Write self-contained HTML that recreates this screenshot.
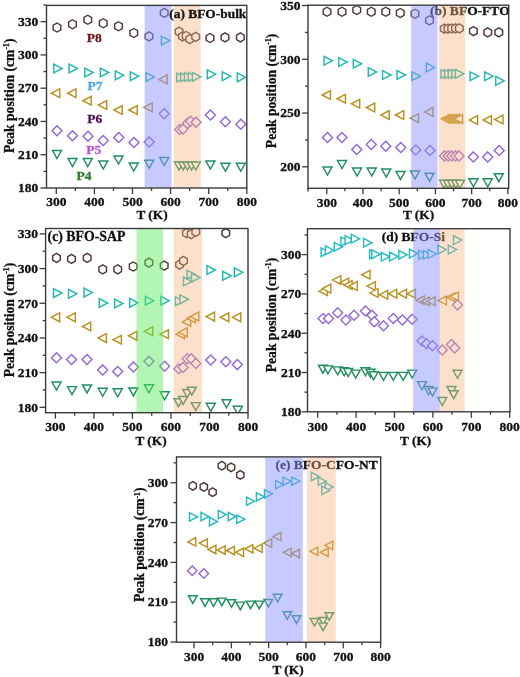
<!DOCTYPE html>
<html><head><meta charset="utf-8"><style>
html,body{margin:0;padding:0;background:#fff;}
body{width:520px;height:677px;overflow:hidden;}
svg{display:block;font-family:"Liberation Serif", serif;filter:blur(0.3px);}
</style></head><body>
<svg width="520" height="677" viewBox="0 0 520 677">
<rect width="520" height="677" fill="#fff"/>
<clipPath id="clip_a"><rect x="46.50" y="5.40" width="200.30" height="182.60"/></clipPath>
<text transform="translate(86.80,41.70)" font-size="13.50" font-weight="bold" text-anchor="start" fill="#6e1a1a" stroke="#6e1a1a" stroke-width="0.30">P8</text>
<text transform="translate(87.60,90.40)" font-size="13.50" font-weight="bold" text-anchor="start" fill="#4fa8e6" stroke="#4fa8e6" stroke-width="0.30">P7</text>
<text transform="translate(87.20,123.30)" font-size="13.50" font-weight="bold" text-anchor="start" fill="#4a1050" stroke="#4a1050" stroke-width="0.30">P6</text>
<text transform="translate(86.30,153.90)" font-size="13.50" font-weight="bold" text-anchor="start" fill="#c24fe0" stroke="#c24fe0" stroke-width="0.30">P5</text>
<text transform="translate(76.50,180.40)" font-size="13.50" font-weight="bold" text-anchor="start" fill="#2a7d2a" stroke="#2a7d2a" stroke-width="0.30">P4</text>
<g clip-path="url(#clip_a)" fill="none" stroke-width="1.45" stroke-linejoin="miter">
<g stroke="#4f3838" fill="#fff">
<polygon points="57.00,23.00 60.82,25.25 60.82,29.75 57.00,32.00 53.18,29.75 53.18,25.25"/>
<polygon points="72.50,19.75 76.32,22.00 76.32,26.50 72.50,28.75 68.68,26.50 68.68,22.00"/>
<polygon points="87.75,15.25 91.57,17.50 91.57,22.00 87.75,24.25 83.93,22.00 83.93,17.50"/>
<polygon points="103.25,18.75 107.07,21.00 107.07,25.50 103.25,27.75 99.43,25.50 99.43,21.00"/>
<polygon points="118.50,21.75 122.32,24.00 122.32,28.50 118.50,30.75 114.68,28.50 114.68,24.00"/>
<polygon points="133.75,28.50 137.57,30.75 137.57,35.25 133.75,37.50 129.93,35.25 129.93,30.75"/>
<polygon points="149.00,31.80 152.82,34.05 152.82,38.55 149.00,40.80 145.18,38.55 145.18,34.05"/>
<polygon points="164.20,8.40 168.02,10.65 168.02,15.15 164.20,17.40 160.38,15.15 160.38,10.65"/>
<polygon points="179.10,27.20 182.92,29.45 182.92,33.95 179.10,36.20 175.28,33.95 175.28,29.45"/>
<polygon points="182.50,31.80 186.32,34.05 186.32,38.55 182.50,40.80 178.68,38.55 178.68,34.05"/>
<polygon points="186.20,31.50 190.02,33.75 190.02,38.25 186.20,40.50 182.38,38.25 182.38,33.75"/>
<polygon points="189.80,34.60 193.62,36.85 193.62,41.35 189.80,43.60 185.98,41.35 185.98,36.85"/>
<polygon points="195.70,32.40 199.52,34.65 199.52,39.15 195.70,41.40 191.88,39.15 191.88,34.65"/>
<polygon points="210.00,33.50 213.82,35.75 213.82,40.25 210.00,42.50 206.18,40.25 206.18,35.75"/>
<polygon points="225.00,32.90 228.82,35.15 228.82,39.65 225.00,41.90 221.18,39.65 221.18,35.15"/>
<polygon points="240.40,32.90 244.22,35.15 244.22,39.65 240.40,41.90 236.58,39.65 236.58,35.15"/>
</g>
<g stroke="#22b8b2" fill="#fff">
<polygon points="53.80,64.10 62.20,68.50 53.80,72.90"/>
<polygon points="69.05,64.10 77.45,68.50 69.05,72.90"/>
<polygon points="84.80,68.10 93.20,72.50 84.80,76.90"/>
<polygon points="100.30,68.10 108.70,72.50 100.30,76.90"/>
<polygon points="115.30,70.90 123.70,75.30 115.30,79.70"/>
<polygon points="130.30,71.85 138.70,76.25 130.30,80.65"/>
<polygon points="146.00,72.70 154.40,77.10 146.00,81.50"/>
<polygon points="161.40,36.20 169.80,40.60 161.40,45.00"/>
<polygon points="176.70,73.10 185.10,77.50 176.70,81.90"/>
<polygon points="180.60,72.80 189.00,77.20 180.60,81.60"/>
<polygon points="184.50,72.60 192.90,77.00 184.50,81.40"/>
<polygon points="188.40,72.40 196.80,76.80 188.40,81.20"/>
<polygon points="192.40,72.40 200.80,76.80 192.40,81.20"/>
<polygon points="207.30,69.90 215.70,74.30 207.30,78.70"/>
<polygon points="222.30,71.80 230.70,76.20 222.30,80.60"/>
<polygon points="237.30,72.90 245.70,77.30 237.30,81.70"/>
</g>
<g stroke="#b8901c" fill="#fff">
<polygon points="59.70,88.85 51.30,93.25 59.70,97.65"/>
<polygon points="75.95,88.85 67.55,93.25 75.95,97.65"/>
<polygon points="91.20,96.35 82.80,100.75 91.20,105.15"/>
<polygon points="106.70,100.60 98.30,105.00 106.70,109.40"/>
<polygon points="122.20,105.60 113.80,110.00 122.20,114.40"/>
<polygon points="137.20,105.60 128.80,110.00 137.20,114.40"/>
<polygon points="152.20,102.90 143.80,107.30 152.20,111.70"/>
<polygon points="167.20,75.00 158.80,79.40 167.20,83.80"/>
</g>
<g stroke="#9468d6" fill="#fff">
<polygon points="57.00,125.75 62.00,130.75 57.00,135.75 52.00,130.75"/>
<polygon points="72.50,130.75 77.50,135.75 72.50,140.75 67.50,135.75"/>
<polygon points="88.00,131.25 93.00,136.25 88.00,141.25 83.00,136.25"/>
<polygon points="103.25,135.50 108.25,140.50 103.25,145.50 98.25,140.50"/>
<polygon points="118.75,132.50 123.75,137.50 118.75,142.50 113.75,137.50"/>
<polygon points="134.00,137.50 139.00,142.50 134.00,147.50 129.00,142.50"/>
<polygon points="149.20,136.90 154.20,141.90 149.20,146.90 144.20,141.90"/>
<polygon points="164.20,108.80 169.20,113.80 164.20,118.80 159.20,113.80"/>
<polygon points="179.70,124.50 184.70,129.50 179.70,134.50 174.70,129.50"/>
<polygon points="183.10,123.90 188.10,128.90 183.10,133.90 178.10,128.90"/>
<polygon points="187.40,118.40 192.40,123.40 187.40,128.40 182.40,123.40"/>
<polygon points="190.50,116.20 195.50,121.20 190.50,126.20 185.50,121.20"/>
<polygon points="196.00,117.20 201.00,122.20 196.00,127.20 191.00,122.20"/>
<polygon points="210.40,109.90 215.40,114.90 210.40,119.90 205.40,114.90"/>
<polygon points="225.40,116.80 230.40,121.80 225.40,126.80 220.40,121.80"/>
<polygon points="240.80,119.20 245.80,124.20 240.80,129.20 235.80,124.20"/>
</g>
<g stroke="#1f8f5c" fill="#fff">
<polygon points="52.50,150.50 61.50,150.50 57.00,158.50"/>
<polygon points="68.00,158.50 77.00,158.50 72.50,166.50"/>
<polygon points="83.25,158.50 92.25,158.50 87.75,166.50"/>
<polygon points="98.75,161.00 107.75,161.00 103.25,169.00"/>
<polygon points="114.00,156.00 123.00,156.00 118.50,164.00"/>
<polygon points="129.25,163.00 138.25,163.00 133.75,171.00"/>
<polygon points="144.70,160.30 153.70,160.30 149.20,168.30"/>
<polygon points="159.70,157.50 168.70,157.50 164.20,165.50"/>
<polygon points="174.50,162.00 183.50,162.00 179.00,170.00"/>
<polygon points="178.70,162.00 187.70,162.00 183.20,170.00"/>
<polygon points="182.90,162.00 191.90,162.00 187.40,170.00"/>
<polygon points="187.10,162.00 196.10,162.00 191.60,170.00"/>
<polygon points="191.30,162.00 200.30,162.00 195.80,170.00"/>
<polygon points="205.90,161.00 214.90,161.00 210.40,169.00"/>
<polygon points="220.90,163.30 229.90,163.30 225.40,171.30"/>
<polygon points="236.30,163.30 245.30,163.30 240.80,171.30"/>
</g>
</g>
<rect x="144.60" y="6.00" width="26.90" height="181.40" fill="#9095ff" fill-opacity="0.50"/>
<rect x="173.80" y="6.00" width="26.90" height="181.40" fill="#fab27d" fill-opacity="0.40"/>
<text transform="translate(169.30,17.50)" font-size="13.40" font-weight="bold" text-anchor="start" fill="#111" stroke="#111" stroke-width="0.30">(a) BFO-bulk</text>
<rect x="46.50" y="5.40" width="200.30" height="182.60" fill="none" stroke="#3a3a3a" stroke-width="1.4"/>
<line x1="40.50" y1="188.00" x2="46.50" y2="188.00" stroke="#3a3a3a" stroke-width="1.3"/>
<text transform="translate(38.30,192.30)" font-size="13.50" font-weight="bold" text-anchor="end" fill="#111" stroke="#111" stroke-width="0.30">180</text>
<line x1="40.50" y1="154.73" x2="46.50" y2="154.73" stroke="#3a3a3a" stroke-width="1.3"/>
<text transform="translate(38.30,159.03)" font-size="13.50" font-weight="bold" text-anchor="end" fill="#111" stroke="#111" stroke-width="0.30">210</text>
<line x1="40.50" y1="121.46" x2="46.50" y2="121.46" stroke="#3a3a3a" stroke-width="1.3"/>
<text transform="translate(38.30,125.76)" font-size="13.50" font-weight="bold" text-anchor="end" fill="#111" stroke="#111" stroke-width="0.30">240</text>
<line x1="40.50" y1="88.19" x2="46.50" y2="88.19" stroke="#3a3a3a" stroke-width="1.3"/>
<text transform="translate(38.30,92.49)" font-size="13.50" font-weight="bold" text-anchor="end" fill="#111" stroke="#111" stroke-width="0.30">270</text>
<line x1="40.50" y1="54.92" x2="46.50" y2="54.92" stroke="#3a3a3a" stroke-width="1.3"/>
<text transform="translate(38.30,59.22)" font-size="13.50" font-weight="bold" text-anchor="end" fill="#111" stroke="#111" stroke-width="0.30">300</text>
<line x1="40.50" y1="21.65" x2="46.50" y2="21.65" stroke="#3a3a3a" stroke-width="1.3"/>
<text transform="translate(38.30,25.95)" font-size="13.50" font-weight="bold" text-anchor="end" fill="#111" stroke="#111" stroke-width="0.30">330</text>
<line x1="43.50" y1="171.37" x2="46.50" y2="171.37" stroke="#3a3a3a" stroke-width="1.3"/>
<line x1="43.50" y1="138.09" x2="46.50" y2="138.09" stroke="#3a3a3a" stroke-width="1.3"/>
<line x1="43.50" y1="104.83" x2="46.50" y2="104.83" stroke="#3a3a3a" stroke-width="1.3"/>
<line x1="43.50" y1="71.56" x2="46.50" y2="71.56" stroke="#3a3a3a" stroke-width="1.3"/>
<line x1="43.50" y1="38.28" x2="46.50" y2="38.28" stroke="#3a3a3a" stroke-width="1.3"/>
<line x1="43.50" y1="5.02" x2="46.50" y2="5.02" stroke="#3a3a3a" stroke-width="1.3"/>
<line x1="56.30" y1="188.00" x2="56.30" y2="194.00" stroke="#3a3a3a" stroke-width="1.3"/>
<text transform="translate(56.30,206.40)" font-size="13.50" font-weight="bold" text-anchor="middle" fill="#111" stroke="#111" stroke-width="0.30">300</text>
<line x1="94.40" y1="188.00" x2="94.40" y2="194.00" stroke="#3a3a3a" stroke-width="1.3"/>
<text transform="translate(94.40,206.40)" font-size="13.50" font-weight="bold" text-anchor="middle" fill="#111" stroke="#111" stroke-width="0.30">400</text>
<line x1="132.50" y1="188.00" x2="132.50" y2="194.00" stroke="#3a3a3a" stroke-width="1.3"/>
<text transform="translate(132.50,206.40)" font-size="13.50" font-weight="bold" text-anchor="middle" fill="#111" stroke="#111" stroke-width="0.30">500</text>
<line x1="170.60" y1="188.00" x2="170.60" y2="194.00" stroke="#3a3a3a" stroke-width="1.3"/>
<text transform="translate(170.60,206.40)" font-size="13.50" font-weight="bold" text-anchor="middle" fill="#111" stroke="#111" stroke-width="0.30">600</text>
<line x1="208.70" y1="188.00" x2="208.70" y2="194.00" stroke="#3a3a3a" stroke-width="1.3"/>
<text transform="translate(208.70,206.40)" font-size="13.50" font-weight="bold" text-anchor="middle" fill="#111" stroke="#111" stroke-width="0.30">700</text>
<line x1="246.80" y1="188.00" x2="246.80" y2="194.00" stroke="#3a3a3a" stroke-width="1.3"/>
<text transform="translate(246.80,206.40)" font-size="13.50" font-weight="bold" text-anchor="middle" fill="#111" stroke="#111" stroke-width="0.30">800</text>
<line x1="75.35" y1="188.00" x2="75.35" y2="191.00" stroke="#3a3a3a" stroke-width="1.3"/>
<line x1="113.45" y1="188.00" x2="113.45" y2="191.00" stroke="#3a3a3a" stroke-width="1.3"/>
<line x1="151.55" y1="188.00" x2="151.55" y2="191.00" stroke="#3a3a3a" stroke-width="1.3"/>
<line x1="189.65" y1="188.00" x2="189.65" y2="191.00" stroke="#3a3a3a" stroke-width="1.3"/>
<line x1="227.75" y1="188.00" x2="227.75" y2="191.00" stroke="#3a3a3a" stroke-width="1.3"/>
<text transform="translate(152.00,218.70)" font-size="13.30" font-weight="bold" text-anchor="middle" fill="#111" stroke="#111" stroke-width="0.30">T (K)</text>
<text transform="translate(13.50,95.80) rotate(-90)" font-size="13.60" font-weight="bold" text-anchor="middle" fill="#111" stroke="#111" stroke-width="0.30">Peak position (cm<tspan font-size="7.8" dy="-4.6">-1</tspan><tspan dy="4.6">)</tspan></text>
<clipPath id="clip_b"><rect x="308.00" y="5.20" width="200.70" height="183.10"/></clipPath>
<text transform="translate(430.00,14.60)" font-size="13.50" font-weight="bold" text-anchor="start" fill="#111" stroke="#111" stroke-width="0.30">(b) BFO-FTO</text>
<g clip-path="url(#clip_b)" fill="none" stroke-width="1.45" stroke-linejoin="miter">
<g stroke="#4f3838" fill="#fff">
<polygon points="327.00,7.25 330.82,9.50 330.82,14.00 327.00,16.25 323.18,14.00 323.18,9.50"/>
<polygon points="342.00,7.25 345.82,9.50 345.82,14.00 342.00,16.25 338.18,14.00 338.18,9.50"/>
<polygon points="356.75,5.50 360.57,7.75 360.57,12.25 356.75,14.50 352.93,12.25 352.93,7.75"/>
<polygon points="371.25,7.25 375.07,9.50 375.07,14.00 371.25,16.25 367.43,14.00 367.43,9.50"/>
<polygon points="385.75,7.25 389.57,9.50 389.57,14.00 385.75,16.25 381.93,14.00 381.93,9.50"/>
<polygon points="400.25,8.50 404.07,10.75 404.07,15.25 400.25,17.50 396.43,15.25 396.43,10.75"/>
<polygon points="415.00,9.25 418.82,11.50 418.82,16.00 415.00,18.25 411.18,16.00 411.18,11.50"/>
<polygon points="429.50,15.80 433.32,18.05 433.32,22.55 429.50,24.80 425.68,22.55 425.68,18.05"/>
<polygon points="444.30,24.10 448.12,26.35 448.12,30.85 444.30,33.10 440.48,30.85 440.48,26.35"/>
<polygon points="448.00,24.10 451.82,26.35 451.82,30.85 448.00,33.10 444.18,30.85 444.18,26.35"/>
<polygon points="451.70,24.00 455.52,26.25 455.52,30.75 451.70,33.00 447.88,30.75 447.88,26.25"/>
<polygon points="455.50,23.90 459.32,26.15 459.32,30.65 455.50,32.90 451.68,30.65 451.68,26.15"/>
<polygon points="459.30,23.80 463.12,26.05 463.12,30.55 459.30,32.80 455.48,30.55 455.48,26.05"/>
<polygon points="473.40,26.70 477.22,28.95 477.22,33.45 473.40,35.70 469.58,33.45 469.58,28.95"/>
<polygon points="487.70,27.80 491.52,30.05 491.52,34.55 487.70,36.80 483.88,34.55 483.88,30.05"/>
<polygon points="498.80,27.80 502.62,30.05 502.62,34.55 498.80,36.80 494.98,34.55 494.98,30.05"/>
</g>
<g stroke="#22b8b2" fill="#fff">
<polygon points="324.05,56.35 332.45,60.75 324.05,65.15"/>
<polygon points="338.80,57.60 347.20,62.00 338.80,66.40"/>
<polygon points="353.30,59.35 361.70,63.75 353.30,68.15"/>
<polygon points="368.30,67.60 376.70,72.00 368.30,76.40"/>
<polygon points="382.55,70.60 390.95,75.00 382.55,79.40"/>
<polygon points="397.05,70.60 405.45,75.00 397.05,79.40"/>
<polygon points="412.00,71.80 420.40,76.20 412.00,80.60"/>
<polygon points="426.30,63.00 434.70,67.40 426.30,71.80"/>
<polygon points="441.00,69.60 449.40,74.00 441.00,78.40"/>
<polygon points="444.60,69.60 453.00,74.00 444.60,78.40"/>
<polygon points="448.20,69.50 456.60,73.90 448.20,78.30"/>
<polygon points="451.80,69.40 460.20,73.80 451.80,78.20"/>
<polygon points="455.40,69.40 463.80,73.80 455.40,78.20"/>
<polygon points="470.10,71.80 478.50,76.20 470.10,80.60"/>
<polygon points="484.60,71.80 493.00,76.20 484.60,80.60"/>
<polygon points="495.70,76.40 504.10,80.80 495.70,85.20"/>
</g>
<g stroke="#b8901c" fill="#fff">
<polygon points="330.45,90.60 322.05,95.00 330.45,99.40"/>
<polygon points="345.45,94.35 337.05,98.75 345.45,103.15"/>
<polygon points="359.70,99.35 351.30,103.75 359.70,108.15"/>
<polygon points="374.70,103.10 366.30,107.50 374.70,111.90"/>
<polygon points="389.20,110.60 380.80,115.00 389.20,119.40"/>
<polygon points="403.70,110.60 395.30,115.00 403.70,119.40"/>
<polygon points="418.50,113.80 410.10,118.20 418.50,122.60"/>
<polygon points="433.00,107.50 424.60,111.90 433.00,116.30"/>
<polygon points="449.70,114.40 441.30,118.80 449.70,123.20"/>
<polygon points="452.90,114.40 444.50,118.80 452.90,123.20"/>
<polygon points="456.10,114.40 447.70,118.80 456.10,123.20"/>
<polygon points="459.30,114.40 450.90,118.80 459.30,123.20"/>
<polygon points="462.50,114.40 454.10,118.80 462.50,123.20"/>
<polygon points="477.60,115.60 469.20,120.00 477.60,124.40"/>
<polygon points="491.40,115.60 483.00,120.00 491.40,124.40"/>
<polygon points="503.00,115.10 494.60,119.50 503.00,123.90"/>
</g>
<g stroke="#9468d6" fill="#fff">
<polygon points="327.50,132.50 332.50,137.50 327.50,142.50 322.50,137.50"/>
<polygon points="342.00,132.50 347.00,137.50 342.00,142.50 337.00,137.50"/>
<polygon points="356.75,144.50 361.75,149.50 356.75,154.50 351.75,149.50"/>
<polygon points="371.25,139.50 376.25,144.50 371.25,149.50 366.25,144.50"/>
<polygon points="385.75,141.25 390.75,146.25 385.75,151.25 380.75,146.25"/>
<polygon points="400.75,142.50 405.75,147.50 400.75,152.50 395.75,147.50"/>
<polygon points="415.70,145.00 420.70,150.00 415.70,155.00 410.70,150.00"/>
<polygon points="430.00,145.50 435.00,150.50 430.00,155.50 425.00,150.50"/>
<polygon points="444.50,150.90 449.50,155.90 444.50,160.90 439.50,155.90"/>
<polygon points="448.20,150.90 453.20,155.90 448.20,160.90 443.20,155.90"/>
<polygon points="451.80,150.90 456.80,155.90 451.80,160.90 446.80,155.90"/>
<polygon points="455.50,150.90 460.50,155.90 455.50,160.90 450.50,155.90"/>
<polygon points="459.10,150.90 464.10,155.90 459.10,160.90 454.10,155.90"/>
<polygon points="473.40,151.90 478.40,156.90 473.40,161.90 468.40,156.90"/>
<polygon points="487.70,151.90 492.70,156.90 487.70,161.90 482.70,156.90"/>
<polygon points="499.20,145.50 504.20,150.50 499.20,155.50 494.20,150.50"/>
</g>
<g stroke="#1f8f5c" fill="#fff">
<polygon points="323.00,167.00 332.00,167.00 327.50,175.00"/>
<polygon points="337.50,160.50 346.50,160.50 342.00,168.50"/>
<polygon points="352.50,168.00 361.50,168.00 357.00,176.00"/>
<polygon points="367.25,168.00 376.25,168.00 371.75,176.00"/>
<polygon points="381.75,169.00 390.75,169.00 386.25,177.00"/>
<polygon points="396.00,171.50 405.00,171.50 400.50,179.50"/>
<polygon points="410.50,171.00 419.50,171.00 415.00,179.00"/>
<polygon points="425.00,173.20 434.00,173.20 429.50,181.20"/>
<polygon points="439.60,180.30 448.60,180.30 444.10,188.30"/>
<polygon points="443.50,180.30 452.50,180.30 448.00,188.30"/>
<polygon points="447.50,180.30 456.50,180.30 452.00,188.30"/>
<polygon points="451.50,180.30 460.50,180.30 456.00,188.30"/>
<polygon points="455.40,180.30 464.40,180.30 459.90,188.30"/>
<polygon points="468.90,178.80 477.90,178.80 473.40,186.80"/>
<polygon points="483.20,178.80 492.20,178.80 487.70,186.80"/>
<polygon points="494.30,173.70 503.30,173.70 498.80,181.70"/>
</g>
</g>
<rect x="411.20" y="5.80" width="26.40" height="181.90" fill="#9095ff" fill-opacity="0.50"/>
<rect x="438.80" y="5.80" width="26.50" height="181.90" fill="#fab27d" fill-opacity="0.40"/>
<rect x="308.00" y="5.20" width="200.70" height="183.10" fill="none" stroke="#3a3a3a" stroke-width="1.4"/>
<line x1="308.00" y1="188.30" x2="308.00" y2="191.50" stroke="#3a3a3a" stroke-width="1.4"/>
<line x1="302.00" y1="166.80" x2="308.00" y2="166.80" stroke="#3a3a3a" stroke-width="1.3"/>
<text transform="translate(300.50,171.10)" font-size="13.50" font-weight="bold" text-anchor="end" fill="#111" stroke="#111" stroke-width="0.30">200</text>
<line x1="302.00" y1="113.05" x2="308.00" y2="113.05" stroke="#3a3a3a" stroke-width="1.3"/>
<text transform="translate(300.50,117.35)" font-size="13.50" font-weight="bold" text-anchor="end" fill="#111" stroke="#111" stroke-width="0.30">250</text>
<line x1="302.00" y1="59.30" x2="308.00" y2="59.30" stroke="#3a3a3a" stroke-width="1.3"/>
<text transform="translate(300.50,63.60)" font-size="13.50" font-weight="bold" text-anchor="end" fill="#111" stroke="#111" stroke-width="0.30">300</text>
<line x1="302.00" y1="5.55" x2="308.00" y2="5.55" stroke="#3a3a3a" stroke-width="1.3"/>
<text transform="translate(300.50,9.85)" font-size="13.50" font-weight="bold" text-anchor="end" fill="#111" stroke="#111" stroke-width="0.30">350</text>
<line x1="305.00" y1="139.93" x2="308.00" y2="139.93" stroke="#3a3a3a" stroke-width="1.3"/>
<line x1="305.00" y1="86.18" x2="308.00" y2="86.18" stroke="#3a3a3a" stroke-width="1.3"/>
<line x1="305.00" y1="32.43" x2="308.00" y2="32.43" stroke="#3a3a3a" stroke-width="1.3"/>
<line x1="326.75" y1="188.30" x2="326.75" y2="194.30" stroke="#3a3a3a" stroke-width="1.3"/>
<text transform="translate(326.75,206.80)" font-size="13.50" font-weight="bold" text-anchor="middle" fill="#111" stroke="#111" stroke-width="0.30">300</text>
<line x1="362.98" y1="188.30" x2="362.98" y2="194.30" stroke="#3a3a3a" stroke-width="1.3"/>
<text transform="translate(362.98,206.80)" font-size="13.50" font-weight="bold" text-anchor="middle" fill="#111" stroke="#111" stroke-width="0.30">400</text>
<line x1="399.21" y1="188.30" x2="399.21" y2="194.30" stroke="#3a3a3a" stroke-width="1.3"/>
<text transform="translate(399.21,206.80)" font-size="13.50" font-weight="bold" text-anchor="middle" fill="#111" stroke="#111" stroke-width="0.30">500</text>
<line x1="435.44" y1="188.30" x2="435.44" y2="194.30" stroke="#3a3a3a" stroke-width="1.3"/>
<text transform="translate(435.44,206.80)" font-size="13.50" font-weight="bold" text-anchor="middle" fill="#111" stroke="#111" stroke-width="0.30">600</text>
<line x1="471.67" y1="188.30" x2="471.67" y2="194.30" stroke="#3a3a3a" stroke-width="1.3"/>
<text transform="translate(471.67,206.80)" font-size="13.50" font-weight="bold" text-anchor="middle" fill="#111" stroke="#111" stroke-width="0.30">700</text>
<line x1="507.90" y1="188.30" x2="507.90" y2="194.30" stroke="#3a3a3a" stroke-width="1.3"/>
<text transform="translate(507.90,206.80)" font-size="13.50" font-weight="bold" text-anchor="middle" fill="#111" stroke="#111" stroke-width="0.30">800</text>
<line x1="344.87" y1="188.30" x2="344.87" y2="191.30" stroke="#3a3a3a" stroke-width="1.3"/>
<line x1="381.10" y1="188.30" x2="381.10" y2="191.30" stroke="#3a3a3a" stroke-width="1.3"/>
<line x1="417.32" y1="188.30" x2="417.32" y2="191.30" stroke="#3a3a3a" stroke-width="1.3"/>
<line x1="453.56" y1="188.30" x2="453.56" y2="191.30" stroke="#3a3a3a" stroke-width="1.3"/>
<line x1="489.78" y1="188.30" x2="489.78" y2="191.30" stroke="#3a3a3a" stroke-width="1.3"/>
<text transform="translate(418.50,218.80)" font-size="13.30" font-weight="bold" text-anchor="middle" fill="#111" stroke="#111" stroke-width="0.30">T (K)</text>
<text transform="translate(275.50,90.90) rotate(-90)" font-size="13.60" font-weight="bold" text-anchor="middle" fill="#111" stroke="#111" stroke-width="0.30">Peak position (cm<tspan font-size="7.8" dy="-4.6">-1</tspan><tspan dy="4.6">)</tspan></text>
<clipPath id="clip_c"><rect x="45.60" y="228.50" width="202.40" height="184.20"/></clipPath>
<text transform="translate(47.60,241.30)" font-size="13.80" font-weight="bold" text-anchor="start" fill="#111" stroke="#111" stroke-width="0.30">(c) BFO-SAP</text>
<g clip-path="url(#clip_c)" fill="none" stroke-width="1.45" stroke-linejoin="miter">
<g stroke="#4f3838" fill="#fff">
<polygon points="56.50,253.30 60.32,255.55 60.32,260.05 56.50,262.30 52.68,260.05 52.68,255.55"/>
<polygon points="71.50,254.40 75.32,256.65 75.32,261.15 71.50,263.40 67.68,261.15 67.68,256.65"/>
<polygon points="87.20,253.30 91.02,255.55 91.02,260.05 87.20,262.30 83.38,260.05 83.38,255.55"/>
<polygon points="102.70,264.80 106.52,267.05 106.52,271.55 102.70,273.80 98.88,271.55 98.88,267.05"/>
<polygon points="117.70,264.80 121.52,267.05 121.52,271.55 117.70,273.80 113.88,271.55 113.88,267.05"/>
<polygon points="133.20,262.00 137.02,264.25 137.02,268.75 133.20,271.00 129.38,268.75 129.38,264.25"/>
<polygon points="148.90,258.10 152.72,260.35 152.72,264.85 148.90,267.10 145.08,264.85 145.08,260.35"/>
<polygon points="164.20,261.10 168.02,263.35 168.02,267.85 164.20,270.10 160.38,267.85 160.38,263.35"/>
<polygon points="179.60,260.20 183.42,262.45 183.42,266.95 179.60,269.20 175.78,266.95 175.78,262.45"/>
<polygon points="183.50,256.30 187.32,258.55 187.32,263.05 183.50,265.30 179.68,263.05 179.68,258.55"/>
<polygon points="186.50,228.60 190.32,230.85 190.32,235.35 186.50,237.60 182.68,235.35 182.68,230.85"/>
<polygon points="191.20,229.70 195.02,231.95 195.02,236.45 191.20,238.70 187.38,236.45 187.38,231.95"/>
<polygon points="195.80,227.40 199.62,229.65 199.62,234.15 195.80,236.40 191.98,234.15 191.98,229.65"/>
<polygon points="225.80,228.60 229.62,230.85 229.62,235.35 225.80,237.60 221.98,235.35 221.98,230.85"/>
</g>
<g stroke="#22b8b2" fill="#fff">
<polygon points="53.50,288.70 61.90,293.10 53.50,297.50"/>
<polygon points="68.50,289.40 76.90,293.80 68.50,298.20"/>
<polygon points="84.00,288.20 92.40,292.60 84.00,297.00"/>
<polygon points="99.20,298.60 107.60,303.00 99.20,307.40"/>
<polygon points="114.60,299.10 123.00,303.50 114.60,307.90"/>
<polygon points="129.60,298.40 138.00,302.80 129.60,307.20"/>
<polygon points="145.40,296.30 153.80,300.70 145.40,305.10"/>
<polygon points="160.90,296.30 169.30,300.70 160.90,305.10"/>
<polygon points="175.40,296.80 183.80,301.20 175.40,305.60"/>
<polygon points="180.00,294.90 188.40,299.30 180.00,303.70"/>
<polygon points="183.50,277.10 191.90,281.50 183.50,285.90"/>
<polygon points="187.00,270.20 195.40,274.60 187.00,279.00"/>
<polygon points="191.60,273.20 200.00,277.60 191.60,282.00"/>
<polygon points="207.00,265.60 215.40,270.00 207.00,274.40"/>
<polygon points="222.70,271.40 231.10,275.80 222.70,280.20"/>
<polygon points="234.30,267.90 242.70,272.30 234.30,276.70"/>
</g>
<g stroke="#b8901c" fill="#fff">
<polygon points="59.60,312.90 51.20,317.30 59.60,321.70"/>
<polygon points="75.30,312.90 66.90,317.30 75.30,321.70"/>
<polygon points="90.70,322.10 82.30,326.50 90.70,330.90"/>
<polygon points="106.40,333.70 98.00,338.10 106.40,342.50"/>
<polygon points="121.40,335.30 113.00,339.70 121.40,344.10"/>
<polygon points="136.90,331.40 128.50,335.80 136.90,340.20"/>
<polygon points="152.70,326.80 144.30,331.20 152.70,335.60"/>
<polygon points="168.40,329.80 160.00,334.20 168.40,338.60"/>
<polygon points="184.50,329.80 176.10,334.20 184.50,338.60"/>
<polygon points="187.30,327.90 178.90,332.30 187.30,336.70"/>
<polygon points="190.70,317.50 182.30,321.90 190.70,326.30"/>
<polygon points="195.40,314.10 187.00,318.50 195.40,322.90"/>
<polygon points="198.80,312.20 190.40,316.60 198.80,321.00"/>
<polygon points="214.50,312.20 206.10,316.60 214.50,321.00"/>
<polygon points="228.80,312.90 220.40,317.30 228.80,321.70"/>
<polygon points="240.80,312.90 232.40,317.30 240.80,321.70"/>
</g>
<g stroke="#9468d6" fill="#fff">
<polygon points="56.50,352.70 61.50,357.70 56.50,362.70 51.50,357.70"/>
<polygon points="71.50,354.50 76.50,359.50 71.50,364.50 66.50,359.50"/>
<polygon points="87.00,354.50 92.00,359.50 87.00,364.50 82.00,359.50"/>
<polygon points="102.70,364.90 107.70,369.90 102.70,374.90 97.70,369.90"/>
<polygon points="117.70,366.50 122.70,371.50 117.70,376.50 112.70,371.50"/>
<polygon points="133.40,361.90 138.40,366.90 133.40,371.90 128.40,366.90"/>
<polygon points="148.90,356.20 153.90,361.20 148.90,366.20 143.90,361.20"/>
<polygon points="164.60,361.20 169.60,366.20 164.60,371.20 159.60,366.20"/>
<polygon points="178.90,363.80 183.90,368.80 178.90,373.80 173.90,368.80"/>
<polygon points="183.10,362.40 188.10,367.40 183.10,372.40 178.10,367.40"/>
<polygon points="187.20,353.80 192.20,358.80 187.20,363.80 182.20,358.80"/>
<polygon points="191.20,353.80 196.20,358.80 191.20,363.80 186.20,358.80"/>
<polygon points="195.80,358.50 200.80,363.50 195.80,368.50 190.80,363.50"/>
<polygon points="210.80,355.00 215.80,360.00 210.80,365.00 205.80,360.00"/>
<polygon points="225.80,356.80 230.80,361.80 225.80,366.80 220.80,361.80"/>
<polygon points="237.30,359.60 242.30,364.60 237.30,369.60 232.30,364.60"/>
</g>
<g stroke="#1f8f5c" fill="#fff">
<polygon points="52.00,382.00 61.00,382.00 56.50,390.00"/>
<polygon points="67.50,386.60 76.50,386.60 72.00,394.60"/>
<polygon points="82.50,384.90 91.50,384.90 87.00,392.90"/>
<polygon points="98.20,388.30 107.20,388.30 102.70,396.30"/>
<polygon points="113.20,388.80 122.20,388.80 117.70,396.80"/>
<polygon points="128.90,387.90 137.90,387.90 133.40,395.90"/>
<polygon points="144.40,384.80 153.40,384.80 148.90,392.80"/>
<polygon points="160.10,391.80 169.10,391.80 164.60,399.80"/>
<polygon points="174.00,398.70 183.00,398.70 178.50,406.70"/>
<polygon points="178.60,396.40 187.60,396.40 183.10,404.40"/>
<polygon points="182.70,389.50 191.70,389.50 187.20,397.50"/>
<polygon points="187.30,387.20 196.30,387.20 191.80,395.20"/>
<polygon points="191.30,402.60 200.30,402.60 195.80,410.60"/>
<polygon points="206.30,403.30 215.30,403.30 210.80,411.30"/>
<polygon points="222.00,399.80 231.00,399.80 226.50,407.80"/>
<polygon points="233.30,406.30 242.30,406.30 237.80,414.30"/>
</g>
</g>
<rect x="136.40" y="229.10" width="26.60" height="183.00" fill="#5aeb5a" fill-opacity="0.46"/>
<rect x="173.80" y="229.10" width="28.30" height="183.00" fill="#fab27d" fill-opacity="0.40"/>
<rect x="45.60" y="228.50" width="202.40" height="184.20" fill="none" stroke="#3a3a3a" stroke-width="1.4"/>
<line x1="39.60" y1="407.30" x2="45.60" y2="407.30" stroke="#3a3a3a" stroke-width="1.3"/>
<text transform="translate(38.00,411.60)" font-size="13.50" font-weight="bold" text-anchor="end" fill="#111" stroke="#111" stroke-width="0.30">180</text>
<line x1="39.60" y1="372.62" x2="45.60" y2="372.62" stroke="#3a3a3a" stroke-width="1.3"/>
<text transform="translate(38.00,376.92)" font-size="13.50" font-weight="bold" text-anchor="end" fill="#111" stroke="#111" stroke-width="0.30">210</text>
<line x1="39.60" y1="337.94" x2="45.60" y2="337.94" stroke="#3a3a3a" stroke-width="1.3"/>
<text transform="translate(38.00,342.24)" font-size="13.50" font-weight="bold" text-anchor="end" fill="#111" stroke="#111" stroke-width="0.30">240</text>
<line x1="39.60" y1="303.26" x2="45.60" y2="303.26" stroke="#3a3a3a" stroke-width="1.3"/>
<text transform="translate(38.00,307.56)" font-size="13.50" font-weight="bold" text-anchor="end" fill="#111" stroke="#111" stroke-width="0.30">270</text>
<line x1="39.60" y1="268.58" x2="45.60" y2="268.58" stroke="#3a3a3a" stroke-width="1.3"/>
<text transform="translate(38.00,272.88)" font-size="13.50" font-weight="bold" text-anchor="end" fill="#111" stroke="#111" stroke-width="0.30">300</text>
<line x1="39.60" y1="233.90" x2="45.60" y2="233.90" stroke="#3a3a3a" stroke-width="1.3"/>
<text transform="translate(38.00,238.20)" font-size="13.50" font-weight="bold" text-anchor="end" fill="#111" stroke="#111" stroke-width="0.30">330</text>
<line x1="42.60" y1="389.96" x2="45.60" y2="389.96" stroke="#3a3a3a" stroke-width="1.3"/>
<line x1="42.60" y1="355.28" x2="45.60" y2="355.28" stroke="#3a3a3a" stroke-width="1.3"/>
<line x1="42.60" y1="320.60" x2="45.60" y2="320.60" stroke="#3a3a3a" stroke-width="1.3"/>
<line x1="42.60" y1="285.92" x2="45.60" y2="285.92" stroke="#3a3a3a" stroke-width="1.3"/>
<line x1="42.60" y1="251.24" x2="45.60" y2="251.24" stroke="#3a3a3a" stroke-width="1.3"/>
<line x1="55.40" y1="412.70" x2="55.40" y2="418.70" stroke="#3a3a3a" stroke-width="1.3"/>
<text transform="translate(55.40,430.60)" font-size="13.50" font-weight="bold" text-anchor="middle" fill="#111" stroke="#111" stroke-width="0.30">300</text>
<line x1="93.92" y1="412.70" x2="93.92" y2="418.70" stroke="#3a3a3a" stroke-width="1.3"/>
<text transform="translate(93.92,430.60)" font-size="13.50" font-weight="bold" text-anchor="middle" fill="#111" stroke="#111" stroke-width="0.30">400</text>
<line x1="132.44" y1="412.70" x2="132.44" y2="418.70" stroke="#3a3a3a" stroke-width="1.3"/>
<text transform="translate(132.44,430.60)" font-size="13.50" font-weight="bold" text-anchor="middle" fill="#111" stroke="#111" stroke-width="0.30">500</text>
<line x1="170.96" y1="412.70" x2="170.96" y2="418.70" stroke="#3a3a3a" stroke-width="1.3"/>
<text transform="translate(170.96,430.60)" font-size="13.50" font-weight="bold" text-anchor="middle" fill="#111" stroke="#111" stroke-width="0.30">600</text>
<line x1="209.48" y1="412.70" x2="209.48" y2="418.70" stroke="#3a3a3a" stroke-width="1.3"/>
<text transform="translate(209.48,430.60)" font-size="13.50" font-weight="bold" text-anchor="middle" fill="#111" stroke="#111" stroke-width="0.30">700</text>
<line x1="248.00" y1="412.70" x2="248.00" y2="418.70" stroke="#3a3a3a" stroke-width="1.3"/>
<text transform="translate(248.00,430.60)" font-size="13.50" font-weight="bold" text-anchor="middle" fill="#111" stroke="#111" stroke-width="0.30">800</text>
<line x1="74.66" y1="412.70" x2="74.66" y2="415.70" stroke="#3a3a3a" stroke-width="1.3"/>
<line x1="113.18" y1="412.70" x2="113.18" y2="415.70" stroke="#3a3a3a" stroke-width="1.3"/>
<line x1="151.70" y1="412.70" x2="151.70" y2="415.70" stroke="#3a3a3a" stroke-width="1.3"/>
<line x1="190.22" y1="412.70" x2="190.22" y2="415.70" stroke="#3a3a3a" stroke-width="1.3"/>
<line x1="228.74" y1="412.70" x2="228.74" y2="415.70" stroke="#3a3a3a" stroke-width="1.3"/>
<text transform="translate(151.00,444.60)" font-size="13.30" font-weight="bold" text-anchor="middle" fill="#111" stroke="#111" stroke-width="0.30">T (K)</text>
<text transform="translate(13.50,320.00) rotate(-90)" font-size="13.60" font-weight="bold" text-anchor="middle" fill="#111" stroke="#111" stroke-width="0.30">Peak position (cm<tspan font-size="7.8" dy="-4.6">-1</tspan><tspan dy="4.6">)</tspan></text>
<clipPath id="clip_d"><rect x="307.50" y="228.70" width="202.50" height="183.10"/></clipPath>
<text transform="translate(381.70,241.20)" font-size="13.50" font-weight="bold" text-anchor="start" fill="#111" stroke="#111" stroke-width="0.30">(d) BFO-Si</text>
<g clip-path="url(#clip_d)" fill="none" stroke-width="1.40" stroke-linejoin="miter">
<g stroke="#20bcc4" fill="#fff">
<polygon points="321.10,247.80 329.50,252.20 321.10,256.60"/>
<polygon points="325.40,245.80 333.80,250.20 325.40,254.60"/>
<polygon points="334.30,242.30 342.70,246.70 334.30,251.10"/>
<polygon points="340.90,237.10 349.30,241.50 340.90,245.90"/>
<polygon points="345.10,235.70 353.50,240.10 345.10,244.50"/>
<polygon points="351.30,234.30 359.70,238.70 351.30,243.10"/>
<polygon points="363.60,238.30 372.00,242.70 363.60,247.10"/>
<polygon points="369.60,249.80 378.00,254.20 369.60,258.60"/>
<polygon points="371.80,249.80 380.20,254.20 371.80,258.60"/>
<polygon points="381.30,252.40 389.70,256.80 381.30,261.20"/>
<polygon points="389.60,252.20 398.00,256.60 389.60,261.00"/>
<polygon points="398.80,250.40 407.20,254.80 398.80,259.20"/>
<polygon points="409.40,249.20 417.80,253.60 409.40,258.00"/>
<polygon points="418.80,250.40 427.20,254.80 418.80,259.20"/>
<polygon points="423.40,250.40 431.80,254.80 423.40,259.20"/>
<polygon points="428.00,249.60 436.40,254.00 428.00,258.40"/>
<polygon points="437.90,245.20 446.30,249.60 437.90,254.00"/>
<polygon points="448.30,245.20 456.70,249.60 448.30,254.00"/>
<polygon points="453.50,235.70 461.90,240.10 453.50,244.50"/>
</g>
<g stroke="#b8901c" fill="#fff">
<polygon points="327.40,286.80 319.00,291.20 327.40,295.60"/>
<polygon points="330.80,284.20 322.40,288.60 330.80,293.00"/>
<polygon points="340.90,275.60 332.50,280.00 340.90,284.40"/>
<polygon points="348.70,278.10 340.30,282.50 348.70,286.90"/>
<polygon points="352.20,280.70 343.80,285.10 352.20,289.50"/>
<polygon points="357.30,281.60 348.90,286.00 357.30,290.40"/>
<polygon points="370.00,270.30 361.60,274.70 370.00,279.10"/>
<polygon points="375.40,281.60 367.00,286.00 375.40,290.40"/>
<polygon points="378.10,288.50 369.70,292.90 378.10,297.30"/>
<polygon points="387.70,290.30 379.30,294.70 387.70,299.10"/>
<polygon points="396.80,289.30 388.40,293.70 396.80,298.10"/>
<polygon points="406.60,289.30 398.20,293.70 406.60,298.10"/>
<polygon points="415.40,289.30 407.00,293.70 415.40,298.10"/>
<polygon points="424.30,295.90 415.90,300.30 424.30,304.70"/>
<polygon points="429.50,296.80 421.10,301.20 429.50,305.60"/>
<polygon points="435.10,296.80 426.70,301.20 435.10,305.60"/>
<polygon points="446.40,296.10 438.00,300.50 446.40,304.90"/>
<polygon points="455.00,292.80 446.60,297.20 455.00,301.60"/>
<polygon points="458.40,292.00 450.00,296.40 458.40,300.80"/>
</g>
<g stroke="#9468d6" fill="#fff">
<polygon points="323.00,313.60 328.00,318.60 323.00,323.60 318.00,318.60"/>
<polygon points="328.50,313.60 333.50,318.60 328.50,323.60 323.50,318.60"/>
<polygon points="337.70,307.70 342.70,312.70 337.70,317.70 332.70,312.70"/>
<polygon points="345.90,314.90 350.90,319.90 345.90,324.90 340.90,319.90"/>
<polygon points="354.00,310.30 359.00,315.30 354.00,320.30 349.00,315.30"/>
<polygon points="365.50,306.10 370.50,311.10 365.50,316.10 360.50,311.10"/>
<polygon points="372.00,310.30 377.00,315.30 372.00,320.30 367.00,315.30"/>
<polygon points="374.30,316.80 379.30,321.80 374.30,326.80 369.30,321.80"/>
<polygon points="383.50,320.80 388.50,325.80 383.50,330.80 378.50,325.80"/>
<polygon points="393.30,313.60 398.30,318.60 393.30,323.60 388.30,318.60"/>
<polygon points="402.40,314.90 407.40,319.90 402.40,324.90 397.40,319.90"/>
<polygon points="412.20,314.20 417.20,319.20 412.20,324.20 407.20,319.20"/>
<polygon points="422.00,336.00 427.00,341.00 422.00,346.00 417.00,341.00"/>
<polygon points="426.60,338.70 431.60,343.70 426.60,348.70 421.60,343.70"/>
<polygon points="432.50,340.70 437.50,345.70 432.50,350.70 427.50,345.70"/>
<polygon points="442.30,345.00 447.30,350.00 442.30,355.00 437.30,350.00"/>
<polygon points="451.50,339.50 456.50,344.50 451.50,349.50 446.50,344.50"/>
<polygon points="454.70,343.00 459.70,348.00 454.70,353.00 449.70,348.00"/>
<polygon points="457.50,300.00 462.50,305.00 457.50,310.00 452.50,305.00"/>
</g>
<g stroke="#1f8f5c" fill="#fff">
<polygon points="318.50,365.20 327.50,365.20 323.00,373.20"/>
<polygon points="323.40,365.90 332.40,365.90 327.90,373.90"/>
<polygon points="333.20,366.90 342.20,366.90 337.70,374.90"/>
<polygon points="339.70,367.80 348.70,367.80 344.20,375.80"/>
<polygon points="343.70,368.50 352.70,368.50 348.20,376.50"/>
<polygon points="351.20,370.10 360.20,370.10 355.70,378.10"/>
<polygon points="361.00,367.80 370.00,367.80 365.50,375.80"/>
<polygon points="365.90,369.20 374.90,369.20 370.40,377.20"/>
<polygon points="369.10,371.80 378.10,371.80 373.60,379.80"/>
<polygon points="379.00,372.40 388.00,372.40 383.50,380.40"/>
<polygon points="388.80,372.40 397.80,372.40 393.30,380.40"/>
<polygon points="398.60,372.40 407.60,372.40 403.10,380.40"/>
<polygon points="407.70,370.10 416.70,370.10 412.20,378.10"/>
<polygon points="417.50,381.60 426.50,381.60 422.00,389.60"/>
<polygon points="424.10,386.50 433.10,386.50 428.60,394.50"/>
<polygon points="428.00,388.10 437.00,388.10 432.50,396.10"/>
<polygon points="437.80,397.50 446.80,397.50 442.30,405.50"/>
<polygon points="447.00,386.50 456.00,386.50 451.50,394.50"/>
<polygon points="449.20,390.70 458.20,390.70 453.70,398.70"/>
<polygon points="453.00,370.30 462.00,370.30 457.50,378.30"/>
</g>
</g>
<rect x="413.20" y="229.30" width="26.60" height="181.90" fill="#9095ff" fill-opacity="0.50"/>
<rect x="439.80" y="229.30" width="24.80" height="181.90" fill="#fab27d" fill-opacity="0.40"/>
<rect x="307.50" y="228.70" width="202.50" height="183.10" fill="none" stroke="#3a3a3a" stroke-width="1.4"/>
<line x1="301.50" y1="411.80" x2="307.50" y2="411.80" stroke="#3a3a3a" stroke-width="1.3"/>
<text transform="translate(301.20,416.10)" font-size="13.50" font-weight="bold" text-anchor="end" fill="#111" stroke="#111" stroke-width="0.30">180</text>
<line x1="301.50" y1="372.50" x2="307.50" y2="372.50" stroke="#3a3a3a" stroke-width="1.3"/>
<text transform="translate(301.20,376.80)" font-size="13.50" font-weight="bold" text-anchor="end" fill="#111" stroke="#111" stroke-width="0.30">210</text>
<line x1="301.50" y1="333.20" x2="307.50" y2="333.20" stroke="#3a3a3a" stroke-width="1.3"/>
<text transform="translate(301.20,337.50)" font-size="13.50" font-weight="bold" text-anchor="end" fill="#111" stroke="#111" stroke-width="0.30">240</text>
<line x1="301.50" y1="293.90" x2="307.50" y2="293.90" stroke="#3a3a3a" stroke-width="1.3"/>
<text transform="translate(301.20,298.20)" font-size="13.50" font-weight="bold" text-anchor="end" fill="#111" stroke="#111" stroke-width="0.30">270</text>
<line x1="301.50" y1="254.60" x2="307.50" y2="254.60" stroke="#3a3a3a" stroke-width="1.3"/>
<text transform="translate(301.20,258.90)" font-size="13.50" font-weight="bold" text-anchor="end" fill="#111" stroke="#111" stroke-width="0.30">300</text>
<line x1="304.50" y1="392.15" x2="307.50" y2="392.15" stroke="#3a3a3a" stroke-width="1.3"/>
<line x1="304.50" y1="352.85" x2="307.50" y2="352.85" stroke="#3a3a3a" stroke-width="1.3"/>
<line x1="304.50" y1="313.55" x2="307.50" y2="313.55" stroke="#3a3a3a" stroke-width="1.3"/>
<line x1="304.50" y1="274.25" x2="307.50" y2="274.25" stroke="#3a3a3a" stroke-width="1.3"/>
<line x1="304.50" y1="234.95" x2="307.50" y2="234.95" stroke="#3a3a3a" stroke-width="1.3"/>
<line x1="317.70" y1="411.80" x2="317.70" y2="417.80" stroke="#3a3a3a" stroke-width="1.3"/>
<text transform="translate(317.70,430.50)" font-size="13.50" font-weight="bold" text-anchor="middle" fill="#111" stroke="#111" stroke-width="0.30">300</text>
<line x1="356.10" y1="411.80" x2="356.10" y2="417.80" stroke="#3a3a3a" stroke-width="1.3"/>
<text transform="translate(356.10,430.50)" font-size="13.50" font-weight="bold" text-anchor="middle" fill="#111" stroke="#111" stroke-width="0.30">400</text>
<line x1="394.50" y1="411.80" x2="394.50" y2="417.80" stroke="#3a3a3a" stroke-width="1.3"/>
<text transform="translate(394.50,430.50)" font-size="13.50" font-weight="bold" text-anchor="middle" fill="#111" stroke="#111" stroke-width="0.30">500</text>
<line x1="432.90" y1="411.80" x2="432.90" y2="417.80" stroke="#3a3a3a" stroke-width="1.3"/>
<text transform="translate(432.90,430.50)" font-size="13.50" font-weight="bold" text-anchor="middle" fill="#111" stroke="#111" stroke-width="0.30">600</text>
<line x1="471.30" y1="411.80" x2="471.30" y2="417.80" stroke="#3a3a3a" stroke-width="1.3"/>
<text transform="translate(471.30,430.50)" font-size="13.50" font-weight="bold" text-anchor="middle" fill="#111" stroke="#111" stroke-width="0.30">700</text>
<line x1="509.70" y1="411.80" x2="509.70" y2="417.80" stroke="#3a3a3a" stroke-width="1.3"/>
<text transform="translate(509.70,430.50)" font-size="13.50" font-weight="bold" text-anchor="middle" fill="#111" stroke="#111" stroke-width="0.30">800</text>
<line x1="336.90" y1="411.80" x2="336.90" y2="414.80" stroke="#3a3a3a" stroke-width="1.3"/>
<line x1="375.30" y1="411.80" x2="375.30" y2="414.80" stroke="#3a3a3a" stroke-width="1.3"/>
<line x1="413.70" y1="411.80" x2="413.70" y2="414.80" stroke="#3a3a3a" stroke-width="1.3"/>
<line x1="452.10" y1="411.80" x2="452.10" y2="414.80" stroke="#3a3a3a" stroke-width="1.3"/>
<line x1="490.50" y1="411.80" x2="490.50" y2="414.80" stroke="#3a3a3a" stroke-width="1.3"/>
<text transform="translate(415.60,444.50)" font-size="13.30" font-weight="bold" text-anchor="middle" fill="#111" stroke="#111" stroke-width="0.30">T (K)</text>
<text transform="translate(275.80,315.00) rotate(-90)" font-size="13.60" font-weight="bold" text-anchor="middle" fill="#111" stroke="#111" stroke-width="0.30">Peak position (cm<tspan font-size="7.8" dy="-4.6">-1</tspan><tspan dy="4.6">)</tspan></text>
<clipPath id="clip_e"><rect x="176.50" y="456.90" width="204.20" height="185.30"/></clipPath>
<text transform="translate(275.50,468.50)" font-size="13.50" font-weight="bold" text-anchor="start" fill="#111" stroke="#111" stroke-width="0.30">(e) BFO-CFO-NT</text>
<g clip-path="url(#clip_e)" fill="none" stroke-width="1.45" stroke-linejoin="miter">
<g stroke="#4f3838" fill="#fff">
<polygon points="192.80,481.53 196.43,483.66 196.43,487.94 192.80,490.07 189.17,487.94 189.17,483.66"/>
<polygon points="203.80,482.62 207.43,484.76 207.43,489.04 203.80,491.17 200.17,489.04 200.17,484.76"/>
<polygon points="212.60,487.93 216.23,490.06 216.23,494.34 212.60,496.47 208.97,494.34 208.97,490.06"/>
<polygon points="221.80,461.43 225.43,463.56 225.43,467.84 221.80,469.97 218.17,467.84 218.17,463.56"/>
<polygon points="231.10,463.03 234.73,465.16 234.73,469.44 231.10,471.57 227.47,469.44 227.47,465.16"/>
<polygon points="240.30,470.62 243.93,472.76 243.93,477.04 240.30,479.17 236.67,477.04 236.67,472.76"/>
</g>
<g stroke="#26b8c0" fill="#fff">
<polygon points="189.51,512.72 197.49,516.90 189.51,521.08"/>
<polygon points="201.01,512.32 208.99,516.50 201.01,520.68"/>
<polygon points="209.51,517.32 217.49,521.50 209.51,525.68"/>
<polygon points="218.31,510.42 226.29,514.60 218.31,518.78"/>
<polygon points="228.21,512.32 236.19,516.50 228.21,520.68"/>
<polygon points="236.81,515.02 244.79,519.20 236.81,523.38"/>
<polygon points="246.51,497.02 254.49,501.20 246.51,505.38"/>
<polygon points="256.41,492.62 264.39,496.80 256.41,500.98"/>
<polygon points="264.51,489.62 272.49,493.80 264.51,497.98"/>
<polygon points="275.61,480.42 283.59,484.60 275.61,488.78"/>
<polygon points="283.21,477.02 291.19,481.20 283.21,485.38"/>
<polygon points="291.81,477.02 299.79,481.20 291.81,485.38"/>
<polygon points="311.41,472.32 319.39,476.50 311.41,480.68"/>
<polygon points="318.31,477.02 326.29,481.20 318.31,485.38"/>
<polygon points="325.21,482.72 333.19,486.90 325.21,491.08"/>
<polygon points="321.81,486.22 329.79,490.40 321.81,494.58"/>
</g>
<g stroke="#b8901c" fill="#fff">
<polygon points="195.79,537.72 187.81,541.90 195.79,546.08"/>
<polygon points="207.39,538.92 199.41,543.10 207.39,547.28"/>
<polygon points="215.89,545.32 207.91,549.50 215.89,553.68"/>
<polygon points="225.19,545.82 217.21,550.00 225.19,554.18"/>
<polygon points="234.39,546.32 226.41,550.50 234.39,554.68"/>
<polygon points="243.59,548.12 235.61,552.30 243.59,556.48"/>
<polygon points="252.89,544.62 244.91,548.80 252.89,552.98"/>
<polygon points="262.09,544.02 254.11,548.20 262.09,552.38"/>
<polygon points="271.69,538.92 263.71,543.10 271.69,547.28"/>
<polygon points="280.89,532.42 272.91,536.60 280.89,540.78"/>
<polygon points="291.29,548.12 283.31,552.30 291.29,556.48"/>
<polygon points="299.39,549.32 291.41,553.50 299.39,557.68"/>
<polygon points="317.79,547.02 309.81,551.20 317.79,555.38"/>
<polygon points="328.19,548.12 320.21,552.30 328.19,556.48"/>
<polygon points="332.79,541.22 324.81,545.40 332.79,549.58"/>
</g>
<g stroke="#9468d6" fill="#fff">
<polygon points="192.30,566.05 197.05,570.80 192.30,575.55 187.55,570.80"/>
<polygon points="203.80,568.75 208.55,573.50 203.80,578.25 199.05,573.50"/>
</g>
<g stroke="#1f8f5c" fill="#fff">
<polygon points="188.53,595.80 197.08,595.80 192.80,603.40"/>
<polygon points="200.72,598.80 209.28,598.80 205.00,606.40"/>
<polygon points="209.22,598.80 217.78,598.80 213.50,606.40"/>
<polygon points="217.53,598.10 226.08,598.10 221.80,605.70"/>
<polygon points="227.22,599.70 235.78,599.70 231.50,607.30"/>
<polygon points="236.03,602.10 244.58,602.10 240.30,609.70"/>
<polygon points="246.22,601.10 254.78,601.10 250.50,608.70"/>
<polygon points="254.92,601.10 263.47,601.10 259.20,608.70"/>
<polygon points="264.12,599.50 272.67,599.50 268.40,607.10"/>
<polygon points="273.33,594.20 281.88,594.20 277.60,601.80"/>
<polygon points="283.03,611.70 291.57,611.70 287.30,619.30"/>
<polygon points="292.23,615.80 300.77,615.80 296.50,623.40"/>
<polygon points="310.23,618.50 318.77,618.50 314.50,626.10"/>
<polygon points="318.83,617.40 327.38,617.40 323.10,625.00"/>
<polygon points="318.83,623.10 327.38,623.10 323.10,630.70"/>
<polygon points="325.03,612.70 333.57,612.70 329.30,620.30"/>
</g>
</g>
<rect x="265.30" y="457.50" width="37.50" height="184.10" fill="#9095ff" fill-opacity="0.50"/>
<rect x="307.00" y="457.50" width="28.80" height="184.10" fill="#fab27d" fill-opacity="0.40"/>
<rect x="176.50" y="456.90" width="204.20" height="185.30" fill="none" stroke="#3a3a3a" stroke-width="1.4"/>
<line x1="170.50" y1="642.00" x2="176.50" y2="642.00" stroke="#3a3a3a" stroke-width="1.3"/>
<text transform="translate(168.00,646.30)" font-size="13.50" font-weight="bold" text-anchor="end" fill="#111" stroke="#111" stroke-width="0.30">180</text>
<line x1="170.50" y1="602.19" x2="176.50" y2="602.19" stroke="#3a3a3a" stroke-width="1.3"/>
<text transform="translate(168.00,606.49)" font-size="13.50" font-weight="bold" text-anchor="end" fill="#111" stroke="#111" stroke-width="0.30">210</text>
<line x1="170.50" y1="562.38" x2="176.50" y2="562.38" stroke="#3a3a3a" stroke-width="1.3"/>
<text transform="translate(168.00,566.68)" font-size="13.50" font-weight="bold" text-anchor="end" fill="#111" stroke="#111" stroke-width="0.30">240</text>
<line x1="170.50" y1="522.57" x2="176.50" y2="522.57" stroke="#3a3a3a" stroke-width="1.3"/>
<text transform="translate(168.00,526.87)" font-size="13.50" font-weight="bold" text-anchor="end" fill="#111" stroke="#111" stroke-width="0.30">270</text>
<line x1="170.50" y1="482.76" x2="176.50" y2="482.76" stroke="#3a3a3a" stroke-width="1.3"/>
<text transform="translate(168.00,487.06)" font-size="13.50" font-weight="bold" text-anchor="end" fill="#111" stroke="#111" stroke-width="0.30">300</text>
<line x1="173.50" y1="622.10" x2="176.50" y2="622.10" stroke="#3a3a3a" stroke-width="1.3"/>
<line x1="173.50" y1="582.28" x2="176.50" y2="582.28" stroke="#3a3a3a" stroke-width="1.3"/>
<line x1="173.50" y1="542.48" x2="176.50" y2="542.48" stroke="#3a3a3a" stroke-width="1.3"/>
<line x1="173.50" y1="502.66" x2="176.50" y2="502.66" stroke="#3a3a3a" stroke-width="1.3"/>
<line x1="173.50" y1="462.86" x2="176.50" y2="462.86" stroke="#3a3a3a" stroke-width="1.3"/>
<line x1="194.00" y1="642.20" x2="194.00" y2="648.20" stroke="#3a3a3a" stroke-width="1.3"/>
<text transform="translate(194.00,661.00)" font-size="13.50" font-weight="bold" text-anchor="middle" fill="#111" stroke="#111" stroke-width="0.30">300</text>
<line x1="231.32" y1="642.20" x2="231.32" y2="648.20" stroke="#3a3a3a" stroke-width="1.3"/>
<text transform="translate(231.32,661.00)" font-size="13.50" font-weight="bold" text-anchor="middle" fill="#111" stroke="#111" stroke-width="0.30">400</text>
<line x1="268.64" y1="642.20" x2="268.64" y2="648.20" stroke="#3a3a3a" stroke-width="1.3"/>
<text transform="translate(268.64,661.00)" font-size="13.50" font-weight="bold" text-anchor="middle" fill="#111" stroke="#111" stroke-width="0.30">500</text>
<line x1="305.96" y1="642.20" x2="305.96" y2="648.20" stroke="#3a3a3a" stroke-width="1.3"/>
<text transform="translate(305.96,661.00)" font-size="13.50" font-weight="bold" text-anchor="middle" fill="#111" stroke="#111" stroke-width="0.30">600</text>
<line x1="343.28" y1="642.20" x2="343.28" y2="648.20" stroke="#3a3a3a" stroke-width="1.3"/>
<text transform="translate(343.28,661.00)" font-size="13.50" font-weight="bold" text-anchor="middle" fill="#111" stroke="#111" stroke-width="0.30">700</text>
<line x1="380.60" y1="642.20" x2="380.60" y2="648.20" stroke="#3a3a3a" stroke-width="1.3"/>
<text transform="translate(380.60,661.00)" font-size="13.50" font-weight="bold" text-anchor="middle" fill="#111" stroke="#111" stroke-width="0.30">800</text>
<line x1="212.66" y1="642.20" x2="212.66" y2="645.20" stroke="#3a3a3a" stroke-width="1.3"/>
<line x1="249.98" y1="642.20" x2="249.98" y2="645.20" stroke="#3a3a3a" stroke-width="1.3"/>
<line x1="287.30" y1="642.20" x2="287.30" y2="645.20" stroke="#3a3a3a" stroke-width="1.3"/>
<line x1="324.62" y1="642.20" x2="324.62" y2="645.20" stroke="#3a3a3a" stroke-width="1.3"/>
<line x1="361.94" y1="642.20" x2="361.94" y2="645.20" stroke="#3a3a3a" stroke-width="1.3"/>
<text transform="translate(288.00,674.00)" font-size="13.30" font-weight="bold" text-anchor="middle" fill="#111" stroke="#111" stroke-width="0.30">T (K)</text>
<text transform="translate(144.30,544.70) rotate(-90)" font-size="13.60" font-weight="bold" text-anchor="middle" fill="#111" stroke="#111" stroke-width="0.30">Peak position (cm<tspan font-size="7.8" dy="-4.6">-1</tspan><tspan dy="4.6">)</tspan></text>
</svg>
</body></html>
